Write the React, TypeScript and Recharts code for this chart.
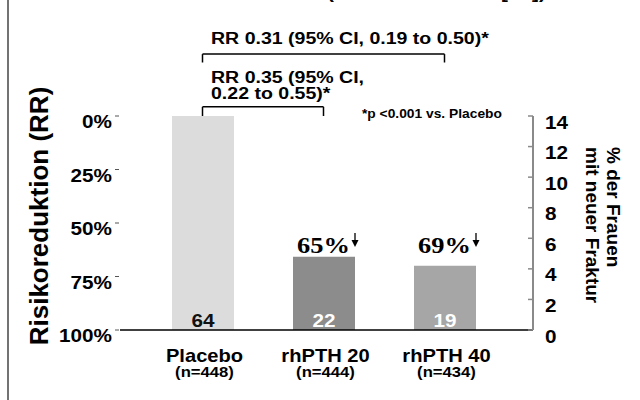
import React from 'react';
import { ComposedChart, Bar, Line, XAxis, YAxis, Cell, LabelList, ReferenceLine } from 'recharts';

// values
const groups = ['Placebo', 'rhPTH 20', 'rhPTH 40'];
const sampleSizes = ['(n=448)', '(n=444)', '(n=434)'];
const fracturePct = [14, 4.8, 4.2];
const fractureCounts = [64, 22, 19];
const riskReduction = [0, 65, 69];
const leftTicks = [0, 25, 50, 75, 100];
const rightTicks = [0, 2, 4, 6, 8, 10, 12, 14];

const barColors = ['#dcdcdc', '#8c8c8c', '#a6a6a6'];
const countColors = ['#111111', '#ffffff', '#ffffff'];

const data = groups.map((name, i) => ({
  name,
  value: fracturePct[i],
  count: fractureCounts[i],
  rr: riskReduction[i],
}));

const SANS = '"Liberation Sans", Arial, sans-serif';
const SERIF = '"Liberation Serif", "Times New Roman", serif';
// the slide is stretched sideways a bit
const SX = 1.15;

const Txt = ({ x, y, size, anchor = 'start', fill = '#000', family = SANS, children }: any) => (
  <text
    transform={`translate(${x},${y}) scale(${SX},1)`}
    fontSize={size}
    textAnchor={anchor}
    fill={fill}
    fontFamily={family}
    fontWeight="bold"
  >
    {children}
  </text>
);

const LeftTick = ({ x, y, payload }: any) => (
  <g>
    <line x1={x - 5} x2={x - 1} y1={y} y2={y} stroke="#555" strokeWidth={1} />
    <Txt x={x - 8} y={y + 12} size={18} anchor="end">{`${payload.value}%`}</Txt>
  </g>
);

const RightTick = ({ x, y, payload }: any) => (
  <g>
    <line x1={x - 5} x2={x} y1={y} y2={y} stroke="#8a8a8a" strokeWidth={1.5} />
    <Txt x={x + 12} y={y + 12.5} size={18}>{payload.value}</Txt>
  </g>
);

const CatTick = ({ x, y, payload, index }: any) => (
  <g>
    <Txt x={x + 2} y={y + 32} size={17.5} anchor="middle">{payload.value}</Txt>
    <Txt x={x + 2} y={y + 47} size={14.5} anchor="middle">{sampleSizes[index]}</Txt>
  </g>
);

const CountLabel = ({ x, y, width, height, value, index }: any) => {
  const i = index ?? fractureCounts.indexOf(Number(value));
  return (
    <Txt x={Number(x) + Number(width) / 2} y={Number(y) + Number(height) - 3} size={18} anchor="middle" fill={countColors[i]}>
      {value}
    </Txt>
  );
};

// "65%↓" above the bar, the arrow drawn as a small path
const RRLabel = ({ x, y, width, height, value }: any) => {
  if (!value) return null;
  const x0 = Number(x) + Number(width) / 2 - 27;
  const base = Number(y) + Number(height) - 77;
  const ax = x0 + 58;
  return (
    <g>
      <text
        transform={`translate(${x0},${base}) scale(${SX},1)`}
        fontFamily={SERIF}
        fontWeight="bold"
        fontSize={23}
        fill="#000"
      >
        {`${value}%`}
      </text>
      <line x1={ax} x2={ax} y1={base - 20} y2={base - 10} stroke="#000" strokeWidth={1.3} />
      <path d={`M${ax - 3.5},${base - 13} L${ax + 3.5},${base - 13} L${ax},${base - 6} Z`} fill="#000" />
    </g>
  );
};

const brackets = [
  { from: 'Placebo', to: 'rhPTH 40', top: 18.05, leg: 17.5 },
  { from: 'Placebo', to: 'rhPTH 20', top: 14.6, leg: 14.0 },
];

export default function App() {
  return (
    <div style={{ position: 'absolute', left: 0, top: 0, width: 640, height: 400, background: '#fff' }}>
      <ComposedChart width={640} height={400} data={data} margin={{ top: 116, right: 0, bottom: 0, left: 0 }}>
        <XAxis
          dataKey="name"
          height={70}
          interval={0}
          tickSize={0}
          tickMargin={0}
          tickLine={false}
          axisLine={{ stroke: '#000', strokeWidth: 1.5 }}
          padding={{ left: 22, right: 28 }}
          tick={<CatTick />}
        />
        <YAxis
          yAxisId="left"
          orientation="left"
          width={120}
          type="number"
          domain={[0, 100]}
          ticks={leftTicks}
          reversed
          axisLine={false}
          tickLine={false}
          tickSize={0}
          tickMargin={0}
          tick={<LeftTick />}
        />
        <YAxis
          yAxisId="right"
          orientation="right"
          width={107}
          type="number"
          domain={[0, 14]}
          ticks={rightTicks}
          axisLine={{ stroke: '#8a8a8a', strokeWidth: 2 }}
          tickLine={false}
          tickSize={0}
          tickMargin={0}
          tick={<RightTick />}
        />
        <Bar dataKey="value" yAxisId="right" barSize={62} isAnimationActive={false}>
          {data.map((d, i) => (
            <Cell key={d.name} fill={barColors[i]} />
          ))}
          <LabelList dataKey="count" content={<CountLabel />} />
          <LabelList dataKey="rr" content={<RRLabel />} />
        </Bar>
        {/* risk reduction on the left scale, not drawn, it only carries the axis */}
        <Line
          dataKey="rr"
          yAxisId="left"
          stroke="none"
          dot={false}
          activeDot={false}
          legendType="none"
          isAnimationActive={false}
        />
        {brackets.map((b, i) => (
          <ReferenceLine
            key={`h${i}`}
            yAxisId="right"
            ifOverflow="visible"
            stroke="#000"
            strokeWidth={1.5}
            segment={[{ x: b.from, y: b.top }, { x: b.to, y: b.top }]}
          />
        ))}
        {brackets.map((b, i) => (
          <ReferenceLine
            key={`l${i}`}
            yAxisId="right"
            ifOverflow="visible"
            stroke="#000"
            strokeWidth={1.5}
            segment={[{ x: b.from, y: b.top }, { x: b.from, y: b.leg }]}
          />
        ))}
        {brackets.map((b, i) => (
          <ReferenceLine
            key={`r${i}`}
            yAxisId="right"
            ifOverflow="visible"
            stroke="#000"
            strokeWidth={1.5}
            segment={[{ x: b.to, y: b.top }, { x: b.to, y: b.leg }]}
          />
        ))}
      </ComposedChart>

      {/* titles and notes on top */}
      <svg width={640} height={400} style={{ position: 'absolute', left: 0, top: 0, pointerEvents: 'none' }}>
        <line x1={8} x2={8} y1={0} y2={400} stroke="#444" strokeWidth={1.5} />
        <Txt x={327} y={-2} size={18}>(</Txt>
        <Txt x={501} y={-2} size={18}>[</Txt>
        <Txt x={532} y={-2} size={18}>])</Txt>

        <Txt x={211} y={44} size={17}>RR 0.31 (95% CI, 0.19 to 0.50)*</Txt>
        <Txt x={211} y={83} size={17}>RR 0.35 (95% CI,</Txt>
        <Txt x={211} y={98.5} size={17}>0.22 to 0.55)*</Txt>
        <Txt x={362} y={118} size={12}>*p &lt;0.001 vs. Placebo</Txt>

        <text
          transform="translate(39,216) rotate(-90)"
          textAnchor="middle"
          dominantBaseline="central"
          fontFamily={SANS}
          fontWeight="bold"
          fontSize={26}
        >
          Risikoreduktion (RR)
        </text>
        <text transform="translate(613,147) rotate(90)" dominantBaseline="central" fontFamily={SANS} fontWeight="bold" fontSize={19}>
          % der Frauen
        </text>
        <text transform="translate(592,147) rotate(90)" dominantBaseline="central" fontFamily={SANS} fontWeight="bold" fontSize={19}>
          mit neuer Fraktur
        </text>
      </svg>
    </div>
  );
}
